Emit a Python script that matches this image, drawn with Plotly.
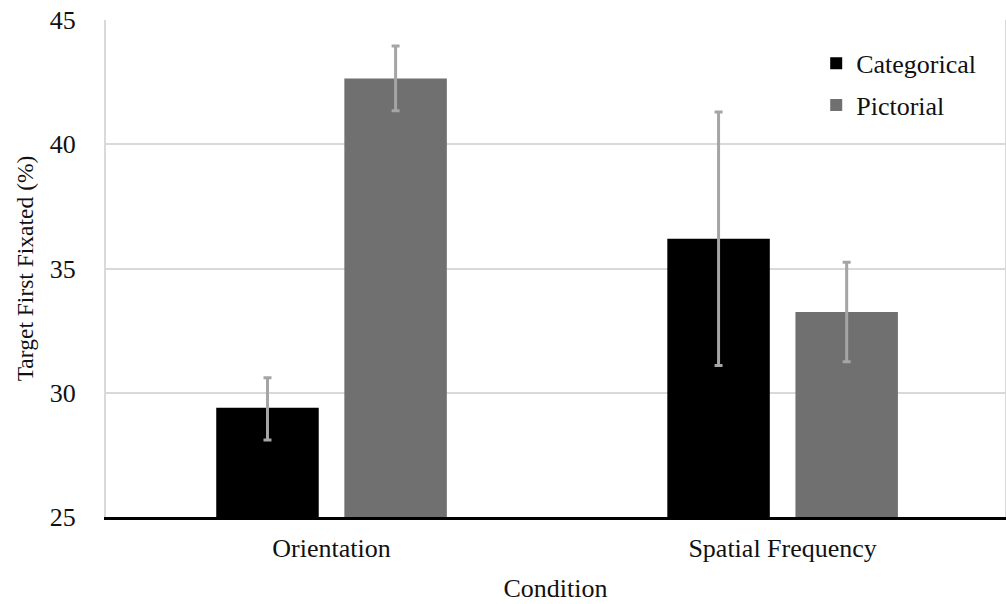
import plotly.graph_objects as go

conditions = ["Orientation", "Spatial Frequency"]
categorical = [29.4, 36.2]
categorical_err_plus = [1.2, 5.1]
categorical_err_minus = [1.3, 5.1]
pictorial = [42.65, 33.25]
pictorial_err_plus = [1.3, 2.0]
pictorial_err_minus = [1.3, 2.0]
y_ticks = [25, 30, 35, 40, 45]

font_family = "'Liberation Serif', 'Times New Roman', Times, serif"
text_color = "#111111"
err_color = "#a5a5a5"

fig = go.Figure()
fig.add_trace(go.Bar(
    x=conditions, y=categorical, name="Categorical",
    marker=dict(color="#000000", line=dict(width=0)),
    legendgroup="a",
    error_y=dict(type="data", symmetric=False, array=categorical_err_plus,
                 arrayminus=categorical_err_minus, color=err_color,
                 thickness=3, width=4),
))
fig.add_trace(go.Bar(
    x=conditions, y=pictorial, name="Pictorial",
    marker=dict(color="#707070", line=dict(width=0)),
    legendgroup="b",
    error_y=dict(type="data", symmetric=False, array=pictorial_err_plus,
                 arrayminus=pictorial_err_minus, color=err_color,
                 thickness=3, width=4),
))

fig.update_layout(
    width=1006, height=604,
    margin=dict(l=106, r=1, t=20, b=87, autoexpand=False),
    paper_bgcolor="white", plot_bgcolor="white",
    barmode="group", bargap=0.432, bargroupgap=0.2,
    font=dict(family=font_family, size=26, color=text_color),
    showlegend=True,
    legend=dict(x=0.79, y=0.96, xanchor="left", yanchor="top",
                font=dict(size=26, family=font_family, color=text_color),
                bgcolor="rgba(0,0,0,0)", traceorder="grouped",
                tracegroupgap=5, itemwidth=30),
    xaxis=dict(
        range=[-0.5, 1.493], showgrid=False, automargin=False,
        showline=True, linecolor="#000000", linewidth=3,
        ticks="", ticklabelstandoff=6, ticklabeloverflow="allow",
        tickfont=dict(size=26, family=font_family, color=text_color),
        title=dict(text="Condition", font=dict(size=26, family=font_family, color=text_color),
                   standoff=17),
        zeroline=False,
    ),
    yaxis=dict(
        range=[25, 45], tickvals=y_ticks, automargin=False,
        showgrid=True, gridcolor="#d9d9d9", gridwidth=2,
        showline=True, linecolor="#d9d9d9", linewidth=2, mirror=True,
        ticks="", ticklabelstandoff=23, ticklabeloverflow="allow",
        tickfont=dict(size=26, family=font_family, color=text_color),
        title=dict(text="Target First Fixated (%)",
                   font=dict(size=23.5, family=font_family, color=text_color),
                   standoff=10),
        zeroline=False,
    ),
)

fig.write_html(
    "out.html",
    config={"displayModeBar": False},
    post_script="document.body.style.margin='0';document.body.style.overflow='hidden';",
)
